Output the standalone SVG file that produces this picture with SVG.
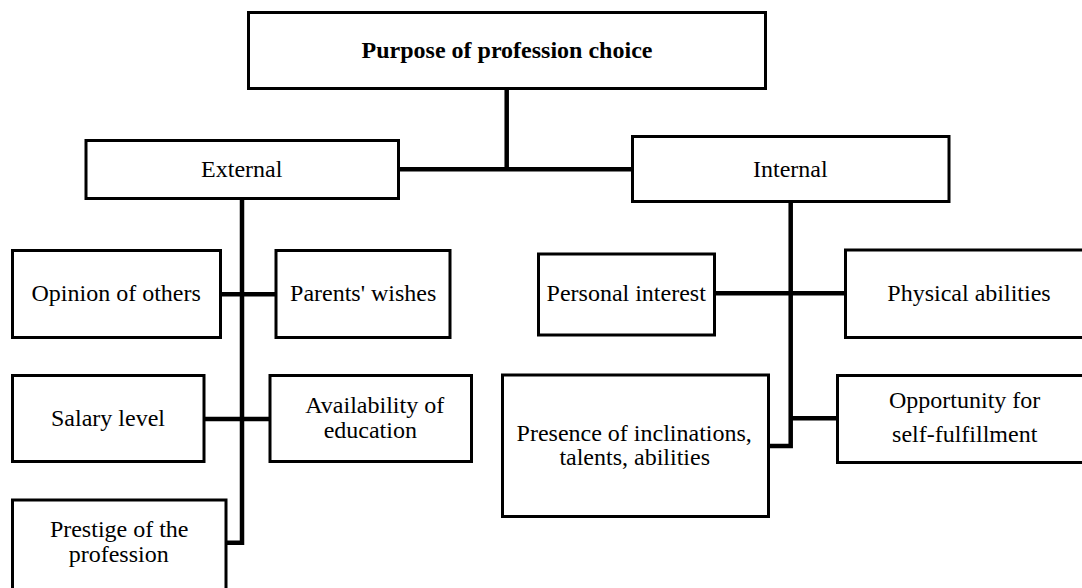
<svg xmlns="http://www.w3.org/2000/svg" width="1082" height="588" viewBox="0 0 1082 588">
<style>
.box{fill:#fff;stroke:#000;stroke-width:3}
text{font-family:"Times New Roman","Liberation Serif","DejaVu Serif",serif;font-size:24px;fill:#000;text-anchor:middle}
.b{font-weight:bold}
.c{fill:none;stroke:#000;stroke-width:4.5;stroke-linejoin:miter}
</style>
<rect width="1082" height="588" fill="#fff"/>
<g id="connectors">
<path class="c" d="M506.7 88 V169.3"/>
<path class="c" d="M398 169.3 H632.7"/>
<path class="c" d="M242 198.3 V542.7 H226"/>
<path class="c" d="M220.7 294.3 H276"/>
<path class="c" d="M204 419 H270"/>
<path class="c" d="M790.7 201.7 V446 H768.3"/>
<path class="c" d="M714.3 293.3 H845.7"/>
<path class="c" d="M790.7 418.3 H837.7"/>
</g>
<g id="root">
<rect class="box" x="248.5" y="12.5" width="517" height="76"/>
<text class="b" x="507" y="58.3">Purpose of profession choice</text>
</g>
<g id="external">
<rect class="box" x="86" y="140.5" width="312.5" height="58"/>
<text x="241.7" y="176.7">External</text>
</g>
<g id="internal">
<rect class="box" x="632.5" y="136.5" width="316.5" height="65"/>
<text x="790.3" y="176.7">Internal</text>
</g>
<g id="opinion">
<rect class="box" x="12.5" y="250.5" width="208" height="87"/>
<text x="116.2" y="300.7">Opinion of others</text>
</g>
<g id="parents">
<rect class="box" x="276" y="250.5" width="174" height="87"/>
<text x="363.2" y="300.7">Parents' wishes</text>
</g>
<g id="salary">
<rect class="box" x="12.5" y="375.5" width="191.5" height="86"/>
<text x="108" y="425.7">Salary level</text>
</g>
<g id="availability">
<rect class="box" x="270" y="375.5" width="201.5" height="86"/>
<text x="374.7" y="413.3">Availability of</text>
<text x="370.3" y="438.3">education</text>
</g>
<g id="prestige">
<rect class="box" x="12.5" y="500" width="213.5" height="100"/>
<text x="119.2" y="537.3">Prestige of the</text>
<text x="118.7" y="562.3">profession</text>
</g>
<g id="personal">
<rect class="box" x="538.5" y="254" width="176" height="81"/>
<text x="626.2" y="300.7">Personal interest</text>
</g>
<g id="physical">
<rect class="box" x="845.5" y="250" width="246" height="87.5"/>
<text x="969" y="300.7">Physical abilities</text>
</g>
<g id="presence">
<rect class="box" x="502.5" y="375" width="266" height="141.5"/>
<text x="634.2" y="440.7">Presence of inclinations,</text>
<text x="634.7" y="465.3">talents, abilities</text>
</g>
<g id="opportunity">
<rect class="box" x="837.5" y="375.5" width="254" height="87"/>
<text x="964.7" y="408.3">Opportunity for</text>
<text x="964.7" y="441.7">self-fulfillment</text>
</g>
</svg>
